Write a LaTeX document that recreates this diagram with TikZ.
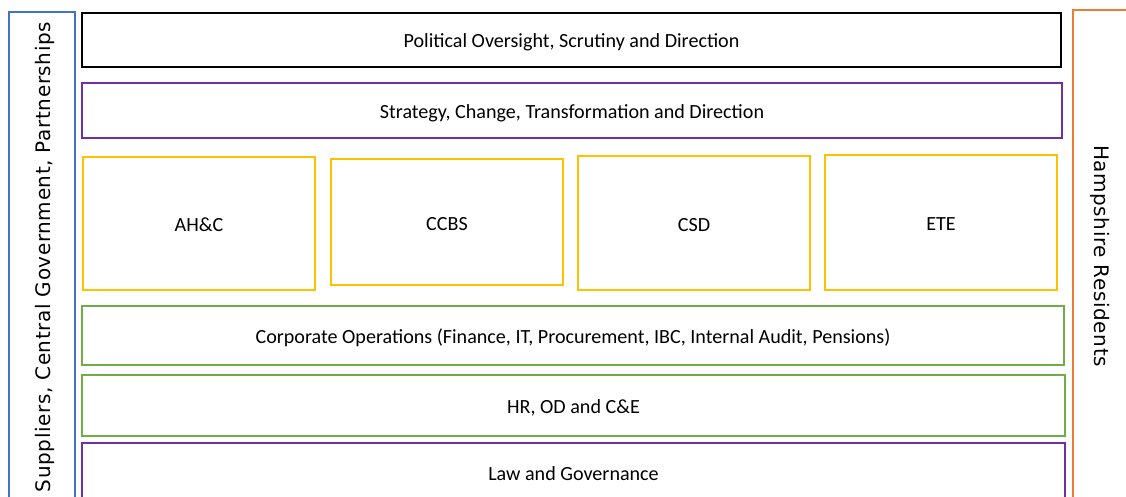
\documentclass[tikz,border=0pt]{standalone}
\usepackage{fontspec}
\setmainfont{Carlito}
\newfontfamily\sidefont[LetterSpace=3]{DejaVu Sans}
\definecolor{cblue}{HTML}{4472C4}
\definecolor{corange}{HTML}{ED7D31}
\definecolor{cpurple}{HTML}{7030A0}
\definecolor{cyellow}{HTML}{FFC000}
\definecolor{cgreen}{HTML}{70AD47}
\begin{document}
\begin{tikzpicture}[x=1pt,y=-1pt,
  box/.style={draw, line width=2pt, inner sep=0pt, anchor=center,
    text height=16pt, text depth=0pt,
    font=\fontsize{20.1}{24}\selectfont},
  sidelabel/.style={inner sep=0pt, anchor=center, text height=14pt, text depth=0pt,
    font=\sidefont\fontsize{20}{22}\selectfont}]
\useasboundingbox (0,0) rectangle (1126,497);
\clip (0,0) rectangle (1126,497);
\fill[white] (0,0) rectangle (1126,497);
% side boxes
\node[box, draw=cblue, line width=1.6pt, minimum width=66pt, minimum height=520pt] (suppliers) at (42,272) {};
\node[box, draw=corange, line width=1.6pt, minimum width=66pt, minimum height=520pt] (residents) at (1106,270) {};
\node[sidelabel, rotate=90] (supplierstext) at (43,257) {Suppliers, Central Government, Partnerships};
\node[sidelabel, rotate=-90] (residentstext) at (1101,256) {Hampshire Residents};
% layers
\node[box, draw=black, minimum width=979pt, minimum height=54pt] (political) at (571.5,40) {Political Oversight, Scrutiny and Direction};
\node[box, draw=cpurple, minimum width=980pt, minimum height=55pt] (strategy) at (572,110.5) {Strategy, Change, Transformation and Direction};
\node[box, draw=cyellow, minimum width=232pt, minimum height=133pt] (ahc) at (199,223.5) {AH\&C};
\node[box, draw=cyellow, minimum width=232pt, minimum height=126pt] (ccbs) at (447,222) {CCBS};
\node[box, draw=cyellow, minimum width=232pt, minimum height=134pt] (csd) at (694,223) {CSD};
\node[box, draw=cyellow, minimum width=232pt, minimum height=135pt] (ete) at (941,222.5) {ETE};
\node[box, draw=cgreen, minimum width=982pt, minimum height=59pt] (corporate) at (573,335.5) {Corporate Operations (Finance, IT, Procurement, IBC, Internal Audit, Pensions)};
\node[box, draw=cgreen, minimum width=983pt, minimum height=61pt] (hr) at (573.5,405.5) {HR, OD and C\&E};
\node[box, draw=cpurple, minimum width=983pt, minimum height=58pt] (law) at (573.5,472) {Law and Governance};
\end{tikzpicture}
\end{document}
